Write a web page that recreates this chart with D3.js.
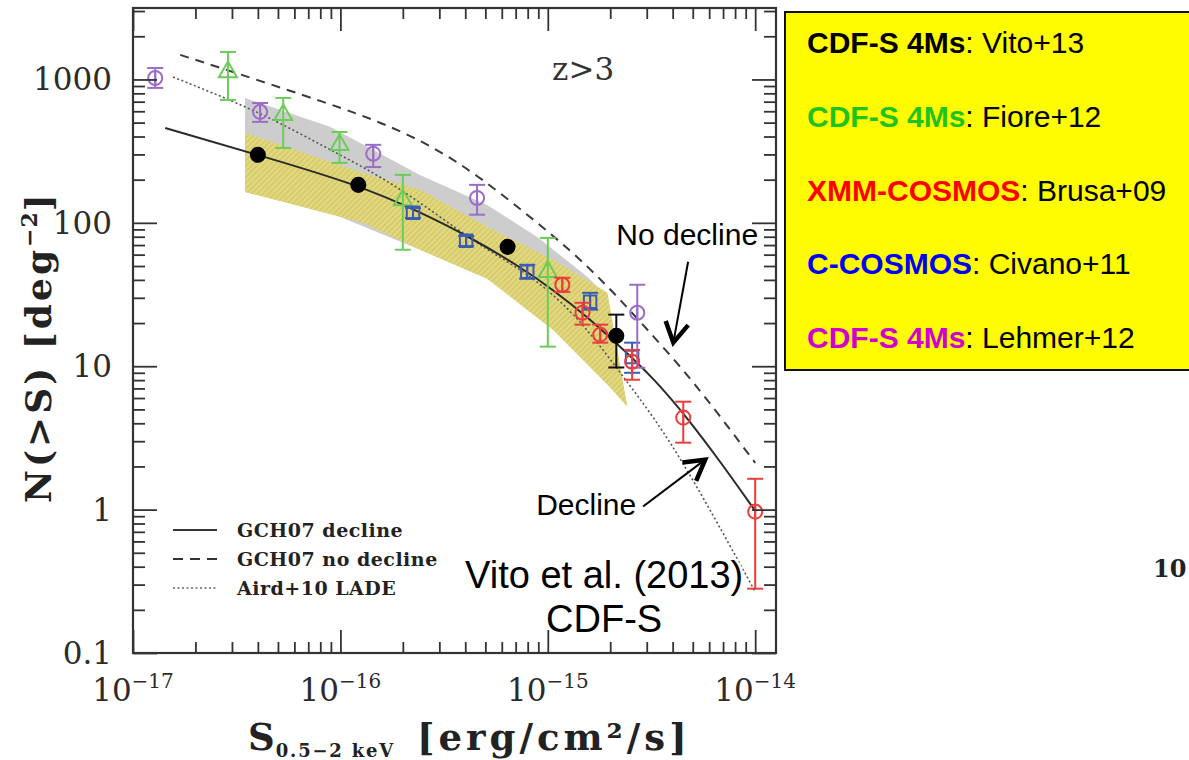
<!DOCTYPE html>
<html>
<head>
<meta charset="utf-8">
<script src="https://cdn.jsdelivr.net/npm/d3@7"></script>
<style>
  html, body { margin: 0; padding: 0; background: #fff; }
  svg { display: block; }
</style>
</head>
<body>
<svg id="chart" width="1189" height="760"></svg>
<script>
// Cumulative number counts N(>S) of z>3 AGN in the 0.5-2 keV band

// CDF-S 4Ms, Vito+13 (filled black circles)
const vitoFlux = [4.0e-17, 1.22e-16, 6.4e-16, 2.14e-15];
const vitoN    = [298, 184, 68, 16.3];
const vitoLo   = [298, 184, 68, 9.8];
const vitoHi   = [298, 184, 68, 22.9];

// CDF-S 4Ms, Fiore+12 (open green triangles)
const fioreFlux = [2.87e-17, 5.3e-17, 9.9e-17, 2.0e-16, 1.0e-15];
const fioreN    = [1128, 566, 350, 144, 45.6];
const fioreLo   = [720, 333, 262, 64.9, 13.7];
const fioreHi   = [1556, 743, 430, 216, 78.5];

// XMM-COSMOS, Brusa+09 (open red circles)
const brusaFlux = [1.175e-15, 1.47e-15, 1.79e-15, 2.55e-15, 4.5e-15, 1.0e-14];
const brusaN    = [37, 23.6, 16.6, 10.75, 4.38, 0.968];
const brusaLo   = [33, 19.5, 14.6, 8.05, 2.93, 0.281];
const brusaHi   = [41.4, 27.7, 19.5, 13.0, 5.66, 1.64];

// C-COSMOS, Civano+11 (open blue squares)
const civanoFlux = [2.24e-16, 4.04e-16, 7.96e-16, 1.6e-15, 2.55e-15];
const civanoN    = [117.5, 75, 45.6, 28.2, 11.6];
const civanoLo   = [108, 69, 40.7, 24.8, 9.0];
const civanoHi   = [127, 81, 51, 32.5, 14.6];

// CDF-S 4Ms, Lehmer+12 (open purple circles)
const lehmerFlux = [1.28e-17, 4.1e-17, 1.44e-16, 4.56e-16, 2.7e-15];
const lehmerN    = [1024, 594, 303, 149, 23.6];
const lehmerLo   = [873, 506, 245, 114, 9.76];
const lehmerHi   = [1202, 685, 350, 184, 37];

// Model curves
const declineFlux = [1.43e-17, 4.0e-17, 1.22e-16, 2.42e-16, 4.23e-16, 7.36e-16, 1.06e-15, 1.55e-15, 2.23e-15, 3.22e-15, 4.70e-15, 6.79e-15, 1.0e-14];
const declineN    = [459, 298, 184, 119, 79.3, 49.3, 34.1, 22.1, 13.7, 8.32, 4.38, 2.16, 0.982];

const noDeclineFlux = [1.69e-17, 2.94e-17, 8.91e-17, 1.55e-16, 2.71e-16, 4.56e-16, 7.78e-16, 1.28e-15, 1.94e-15, 2.79e-15, 3.89e-15, 5.61e-15, 1.0e-14];
const noDeclineN    = [1483, 1146, 675, 506, 350, 216, 117.5, 64.9, 36.4, 20.4, 12.0, 6.43, 2.12];

const ladeFlux = [1.56e-17, 4.1e-17, 8.91e-17, 1.88e-16, 4.72e-16, 7.36e-16, 1.355e-15, 2.42e-15, 4.03e-15, 1.0e-14];
const ladeN    = [1040, 594, 323, 184, 68, 48.5, 24, 7.67, 2.93, 0.268];

// Shaded ranges
const grayFlux  = [3.47e-17, 8.91e-17, 2.42e-16, 5.1e-16, 8.89e-16, 1.55e-15, 1.94e-15];
const grayUpper = [743, 467, 216, 133, 79.8, 42.1, 30.5];
const grayLower = [164, 117.5, 64.9, 40.7, 23.2, 10.6, 7.43];

const yellowFlux  = [3.47e-17, 1.29e-16, 2.42e-16, 5.1e-16, 1.06e-15, 1.94e-15, 2.42e-15];
const yellowUpper = [424, 223, 170, 93.8, 55.2, 32.5, 5.22];
const yellowLower = [164, 99.8, 64.9, 40.7, 17.9, 7.43, 5.22];

// Axis ticks
const xMajorTicks = [1e-17, 1e-16, 1e-15, 1e-14];
const xTickExponents = ["\u221217", "\u221216", "\u221215", "\u221214"];
const yMajorTicks = [0.1, 1, 10, 100, 1000];
const yTickLabels = ["0.1", "1", "10", "100", "1000"];

// Legend entries
const curveNames  = ["GCH07 decline", "GCH07 no decline", "Aird+10 LADE"];
const curveDashes = [null, "9,7", "2,2.5"];
const surveyNames = ["CDF-S 4Ms", "CDF-S 4Ms", "XMM-COSMOS", "C-COSMOS", "CDF-S 4Ms"];
const surveyRefs  = [": Vito+13", ": Fiore+12", ": Brusa+09", ": Civano+11", ": Lehmer+12"];
const surveyColors = ["#000000", "#1ec41e", "#ff0000", "#0000f0", "#d000d0"];

// ------------------------------------------------------------------
const svg = d3.select("#chart");
const frame = { left: 133, right: 776, top: 8, bottom: 653 };

const x = d3.scaleLog().domain([1e-17, 1.26e-14]).range([frame.left, frame.right]);
const y = d3.scaleLog().domain([0.1, 3150]).range([frame.bottom, frame.top]);

const defs = svg.append("defs");
defs.append("clipPath").attr("id", "plotClip")
  .append("rect")
  .attr("x", frame.left).attr("y", frame.top)
  .attr("width", frame.right - frame.left).attr("height", frame.bottom - frame.top);

const hatch = defs.append("pattern").attr("id", "hatch")
  .attr("patternUnits", "userSpaceOnUse")
  .attr("width", 4).attr("height", 4)
  .attr("patternTransform", "rotate(45)");
hatch.append("rect").attr("width", 4).attr("height", 4).attr("fill", "#d8cc66");
hatch.append("line").attr("x1", 1).attr("y1", 0).attr("x2", 1).attr("y2", 4)
  .attr("stroke", "#e6dd96").attr("stroke-width", 1.4);

const plotArea = svg.append("g").attr("clip-path", "url(#plotClip)");

// Shaded bands
function band(fluxes, lower, upper) {
  return d3.area()
    .x((d, i) => x(fluxes[i]))
    .y0((d, i) => y(lower[i]))
    .y1((d, i) => y(upper[i]))(fluxes);
}
plotArea.append("path").attr("d", band(grayFlux, grayLower, grayUpper))
  .attr("fill", "#cdcdcd");
plotArea.append("path").attr("d", band(yellowFlux, yellowLower, yellowUpper))
  .attr("fill", "url(#hatch)");

// Model curves (smoothed B-spline through the sampled points)
const curveLine = d3.line().curve(d3.curveBasis);
function drawCurve(fluxes, counts, dash, width, color) {
  const pts = fluxes.map((f, i) => [x(f), y(counts[i])]);
  const p = plotArea.append("path").attr("d", curveLine(pts))
    .attr("fill", "none").attr("stroke", color).attr("stroke-width", width);
  if (dash) p.attr("stroke-dasharray", dash);
}
drawCurve(noDeclineFlux, noDeclineN, curveDashes[1], 2, "#3a3a3a");
drawCurve(ladeFlux, ladeN, curveDashes[2], 1.6, "#555");
drawCurve(declineFlux, declineN, null, 2, "#2a2a2a");

// Error bars
function errorBars(fluxes, counts, lo, hi, color) {
  const g = plotArea.append("g").attr("stroke", color).attr("stroke-width", 2).attr("fill", "none");
  fluxes.forEach((f, i) => {
    if (hi[i] === lo[i]) return;
    const cx = x(f);
    g.append("line").attr("x1", cx).attr("x2", cx).attr("y1", y(hi[i])).attr("y2", y(lo[i]));
    g.append("line").attr("x1", cx - 8).attr("x2", cx + 8).attr("y1", y(hi[i])).attr("y2", y(hi[i]));
    g.append("line").attr("x1", cx - 8).attr("x2", cx + 8).attr("y1", y(lo[i])).attr("y2", y(lo[i]));
  });
}
function markers(fluxes, counts, color, shape, filled) {
  const sym = d3.symbol().type(shape).size(shape === d3.symbolTriangle ? 140 : 155);
  plotArea.append("g").selectAll("path").data(fluxes).join("path")
    .attr("d", sym)
    .attr("transform", (d, i) => `translate(${x(d)},${y(counts[i])})`)
    .attr("fill", filled ? color : "none")
    .attr("stroke", color).attr("stroke-width", 2);
}
// vertical strokes through open markers
function stems(fluxes, counts, color) {
  plotArea.append("g").selectAll("line").data(fluxes).join("line")
    .attr("x1", d => x(d)).attr("x2", d => x(d))
    .attr("y1", (d, i) => y(counts[i]) - 7).attr("y2", (d, i) => y(counts[i]) + 7)
    .attr("stroke", color).attr("stroke-width", 2);
}

const cLehmer = "#9a6dc9", cFiore = "#6ccc5a", cBrusa = "#ec3d3d", cCivano = "#3c5cb0";

errorBars(fioreFlux, fioreN, fioreLo, fioreHi, cFiore);
markers(fioreFlux, fioreN, cFiore, d3.symbolTriangle, false);

errorBars(civanoFlux, civanoN, civanoLo, civanoHi, cCivano);
markers(civanoFlux, civanoN, cCivano, d3.symbolSquare, false);
stems(civanoFlux, civanoN, cCivano);

errorBars(lehmerFlux, lehmerN, lehmerLo, lehmerHi, cLehmer);
markers(lehmerFlux, lehmerN, cLehmer, d3.symbolCircle, false);
stems(lehmerFlux, lehmerN, cLehmer);

errorBars(brusaFlux, brusaN, brusaLo, brusaHi, cBrusa);
markers(brusaFlux, brusaN, cBrusa, d3.symbolCircle, false);
stems(brusaFlux, brusaN, cBrusa);

errorBars(vitoFlux, vitoN, vitoLo, vitoHi, "#111");
markers(vitoFlux, vitoN, "#000", d3.symbolCircle, true);

// Axes: major/minor ticks on all four sides, pointing inwards
const isDecade = v => Math.abs(Math.log10(v) - Math.round(Math.log10(v))) < 1e-6;
const xMinor = x.ticks(30).filter(v => !isDecade(v));
const yMinor = y.ticks(40).filter(v => !isDecade(v));

const axes = svg.append("g").attr("class", "axes");
function tickAxis(gen, scale, values, size, transform) {
  const g = axes.append("g").attr("transform", transform)
    .call(gen(scale).tickValues(values).tickSize(-size).tickFormat(""));
  g.select(".domain").remove();
  g.selectAll(".tick line").attr("stroke", "#333").attr("stroke-width", 1.8);
}
tickAxis(d3.axisBottom, x, xMajorTicks, 23, `translate(0,${frame.bottom})`);
tickAxis(d3.axisBottom, x, xMinor, 11, `translate(0,${frame.bottom})`);
tickAxis(d3.axisTop, x, xMajorTicks, 23, `translate(0,${frame.top})`);
tickAxis(d3.axisTop, x, xMinor, 11, `translate(0,${frame.top})`);
tickAxis(d3.axisLeft, y, yMajorTicks, 24, `translate(${frame.left},0)`);
tickAxis(d3.axisLeft, y, yMinor, 12, `translate(${frame.left},0)`);
tickAxis(d3.axisRight, y, yMajorTicks, 24, `translate(${frame.right},0)`);
tickAxis(d3.axisRight, y, yMinor, 12, `translate(${frame.right},0)`);

axes.append("rect")
  .attr("x", frame.left).attr("y", frame.top)
  .attr("width", frame.right - frame.left).attr("height", frame.bottom - frame.top)
  .attr("fill", "none").attr("stroke", "#333").attr("stroke-width", 2.2);

const serif = "'DejaVu Serif', 'Liberation Serif', serif";
const sans = "'Liberation Sans', Arial, Helvetica, sans-serif";

// y tick labels
svg.append("g").selectAll("text").data(yMajorTicks).join("text")
  .attr("x", 112).attr("y", d => y(d) + 11)
  .attr("text-anchor", "end")
  .attr("font-family", serif).attr("font-size", 31).attr("fill", "#2b2b2b")
  .text((d, i) => yTickLabels[i]);

// x tick labels: 10^n
const xl = svg.append("g").selectAll("text").data(xMajorTicks).join("text")
  .attr("x", d => x(d)).attr("y", 701)
  .attr("text-anchor", "middle")
  .attr("font-family", serif).attr("font-size", 31).attr("fill", "#2b2b2b");
xl.append("tspan").text("10");
xl.append("tspan").attr("dy", -13).attr("font-size", 20).text((d, i) => xTickExponents[i]);

// Axis titles
const yTitle = svg.append("text")
  .attr("transform", "translate(51,347) rotate(-90)")
  .attr("text-anchor", "middle")
  .attr("font-family", serif).attr("font-weight", "bold").attr("font-size", 36)
  .attr("letter-spacing", 3).attr("fill", "#222");
yTitle.append("tspan").text("N(>S) [deg");
yTitle.append("tspan").attr("dy", -14).attr("font-size", 22).attr("letter-spacing", 1).text("\u22122");
yTitle.append("tspan").attr("dy", 14).text("]");

const xTitle = svg.append("text")
  .attr("x", 248).attr("y", 750)
  .attr("font-family", serif).attr("font-weight", "bold").attr("font-size", 37).attr("fill", "#222");
xTitle.append("tspan").text("S");
xTitle.append("tspan").attr("dy", 7).attr("font-size", 18).attr("dx", 1)
  .attr("letter-spacing", 1.8).text("0.5\u22122 keV");
xTitle.append("tspan").attr("dy", -7).attr("dx", 22).attr("letter-spacing", 4).text("[erg/cm\u00b2/s]");

// Redshift label
svg.append("text").attr("x", x(1.48e-15)).attr("y", 80)
  .attr("text-anchor", "middle")
  .attr("font-family", serif).attr("font-size", 31).attr("fill", "#333")
  .text("z>3");

// Curve legend (lower left)
const lg = svg.append("g");
curveNames.forEach((name, i) => {
  const yy = 530 + i * 29;
  const l = lg.append("line").attr("x1", 173).attr("x2", 217).attr("y1", yy).attr("y2", yy)
    .attr("stroke", i === 2 ? "#666" : "#333").attr("stroke-width", i === 2 ? 1.5 : 2);
  if (curveDashes[i]) l.attr("stroke-dasharray", i === 1 ? "10,7" : curveDashes[i]);
  lg.append("text").attr("x", 237).attr("y", yy + 7)
    .attr("font-family", serif).attr("font-weight", "bold").attr("font-size", 19)
    .attr("fill", "#222").attr("letter-spacing", 0.5)
    .text(name);
});

// Annotation arrows
function arrow(fromF, fromN, toF, toN) {
  const x0 = x(fromF), y0 = y(fromN), x1 = x(toF), y1 = y(toN);
  const a = Math.atan2(y1 - y0, x1 - x0);
  const L = 23, h = 0.52;
  svg.append("line").attr("x1", x0).attr("y1", y0).attr("x2", x1).attr("y2", y1)
    .attr("stroke", "#000").attr("stroke-width", 2);
  const w1 = [x1 - L * Math.cos(a - h), y1 - L * Math.sin(a - h)];
  const w2 = [x1 - L * Math.cos(a + h), y1 - L * Math.sin(a + h)];
  svg.append("path").attr("d", d3.line()([w1, [x1, y1], w2]))
    .attr("fill", "none").attr("stroke", "#000").attr("stroke-width", 4.5)
    .attr("stroke-linejoin", "miter").attr("stroke-linecap", "butt");
}
arrow(4.75e-15, 53.5, 4.03e-15, 14.6);
arrow(2.88e-15, 1.05, 5.74e-15, 2.23);

function haloText(txt, xx, yy, size, anchor) {
  svg.append("text").attr("x", xx).attr("y", yy).attr("text-anchor", anchor)
    .attr("font-family", sans).attr("font-size", size).attr("fill", "#000")
    .attr("stroke", "#fff").attr("stroke-width", 5).attr("stroke-linejoin", "round")
    .attr("paint-order", "stroke")
    .text(txt);
}
haloText("No decline", x(2.14e-15), y(70.3), 30, "start");
haloText("Decline", x(2.67e-15), y(0.923), 30, "end");
haloText("Vito et al. (2013)", x(1.87e-15), y(0.286), 38, "middle");
haloText("CDF-S", x(1.87e-15), y(0.139), 38, "middle");

// Survey key box
svg.append("rect").attr("x", 785).attr("y", 12).attr("width", 430).attr("height", 358)
  .attr("fill", "#fffb00").attr("stroke", "#111").attr("stroke-width", 2);
surveyNames.forEach((name, i) => {
  const t = svg.append("text").attr("x", 807).attr("y", 53 + i * 73.8)
    .attr("font-family", sans).attr("font-size", 30);
  t.append("tspan").attr("font-weight", "bold").attr("fill", surveyColors[i]).text(name);
  t.append("tspan").attr("fill", "#000").text(surveyRefs[i]);
});

// Axis label of the neighbouring panel
svg.append("text").attr("x", 1153).attr("y", 577)
  .attr("font-family", serif).attr("font-weight", "bold").attr("font-size", 24).attr("fill", "#222")
  .text("10");
</script>
</body>
</html>
